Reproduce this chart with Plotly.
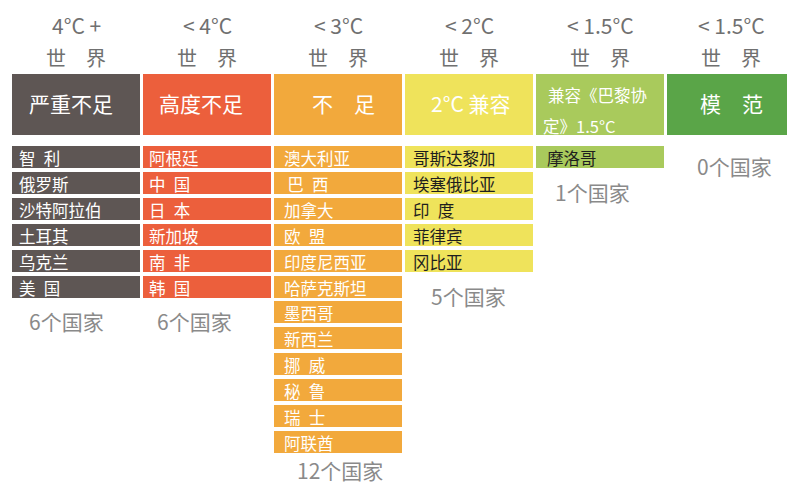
import plotly.graph_objects as go

# ---------------- data ----------------
temps = ["4°C +", "< 4°C", "< 3°C", "< 2°C", "< 1.5°C", "< 1.5°C"]
world = ["世　界"] * 6
ratings = ["严重不足", "高度不足", "不　足", "2°C 兼容", "兼容《巴黎协定》1.5°C", "模　范"]
countries = [
    ["智\u2002利", "俄罗斯", "沙特阿拉伯", "土耳其", "乌克兰", "美\u2002国"],
    ["阿根廷", "中\u2002国", "日\u2002本", "新加坡", "南\u2002非", "韩\u2002国"],
    ["澳大利亚", "\u2009巴\u2002西", "加拿大", "欧\u2002盟", "印度尼西亚", "哈萨克斯坦",
     "墨西哥", "新西兰", "挪\u2002威", "秘\u2002鲁", "瑞\u2002士", "阿联酋"],
    ["哥斯达黎加", "埃塞俄比亚", "印\u2002度", "菲律宾", "冈比亚"],
    ["摩洛哥"],
    [],
]
count_labels = [f"{len(c)}个国家" for c in countries]

# ---------------- style ----------------
colors = ["#5e5654", "#ec5f3c", "#f2a93c", "#efe35b", "#a9ca5c", "#5aa548"]
row_text_colors = ["white", "white", "white", "#1e1e1e", "#1e1e1e", "white"]
text_pad = [6, 5, 9, 7, 10, 6]
count_shift = [-10, -13, 2, -1, -8, 3]
count_yshift = [0, 0, 7, 0, 0, 0]
FONT = "Noto Sans CJK SC"

W, H = 787, 486
X0, XP = 76.0, 131.0      # pixel of column 0 centre, column pitch
Y0, YP = 157.0, 25.9      # pixel of row 0 centre, row pitch
BW = 128 / XP
RH = 22 / YP


def ry(p):  # pixel y -> row units
    return (p - Y0) / YP


fig = go.Figure()
ncol = len(temps)
xs = list(range(ncol))

# header boxes
hb_top, hb_bot = ry(74), ry(135)
fig.add_trace(go.Bar(
    x=xs, y=[hb_bot - hb_top] * ncol, base=[hb_top] * ncol, width=BW,
    marker=dict(color=colors, line=dict(width=0)), hoverinfo="skip", showlegend=False))

# country rows
for i, clist in enumerate(countries):
    if not clist:
        continue
    rows = list(range(len(clist)))
    fig.add_trace(go.Bar(
        x=[i] * len(clist), y=[RH] * len(clist), base=[r - RH / 2 for r in rows], width=BW,
        marker=dict(color=colors[i], line=dict(width=0)), hoverinfo="skip", showlegend=False))
    for r, name in zip(rows, clist):
        fig.add_annotation(x=i - BW / 2, y=r + 0.04, text=name, showarrow=False,
                           xanchor="left", yanchor="middle", xshift=text_pad[i] - 1,
                           font=dict(family=FONT, size=16.5, color=row_text_colors[i]))

# header texts
for i in xs:
    fig.add_annotation(x=i, y=ry(25), text=temps[i], showarrow=False,
                       font=dict(family=FONT, size=21, color="#707070"))
    fig.add_annotation(x=i, y=ry(57), text=world[i], showarrow=False,
                       font=dict(family=FONT, size=20, color="#707070"))
    if i == 4:
        t = ratings[i]
        fig.add_annotation(x=i - BW / 2, y=ry(95), text=t[:6], showarrow=False,
                           xanchor="left", xshift=10,
                           font=dict(family=FONT, size=16.5, color="white"))
        fig.add_annotation(x=i - BW / 2, y=ry(126), text=t[6:], showarrow=False,
                           xanchor="left", xshift=5,
                           font=dict(family=FONT, size=16.5, color="white"))
    else:
        shift = [-5, -6, 5, 2, 0, 0][i]
        fig.add_annotation(x=i, y=ry(103), text=ratings[i], showarrow=False, xshift=shift,
                           font=dict(family=FONT, size=21, color="white"))
    # count labels
    fig.add_annotation(x=i, y=len(countries[i]) + 0.35, text=count_labels[i], showarrow=False,
                       xshift=count_shift[i], yshift=count_yshift[i],
                       font=dict(family=FONT, size=21, color="#8a8a8a"))

fig.update_layout(
    width=W, height=H, margin=dict(l=0, r=0, t=0, b=0),
    paper_bgcolor="white", plot_bgcolor="white", barmode="overlay",
    xaxis=dict(range=[-X0 / XP, (W - X0) / XP], visible=False, fixedrange=True),
    yaxis=dict(range=[ry(H), ry(0)], visible=False, fixedrange=True),
    bargap=0,
)
fig.write_html("out.html", config={"displayModeBar": False},
               post_script="document.body.style.margin='0';document.body.style.overflow='hidden';")
